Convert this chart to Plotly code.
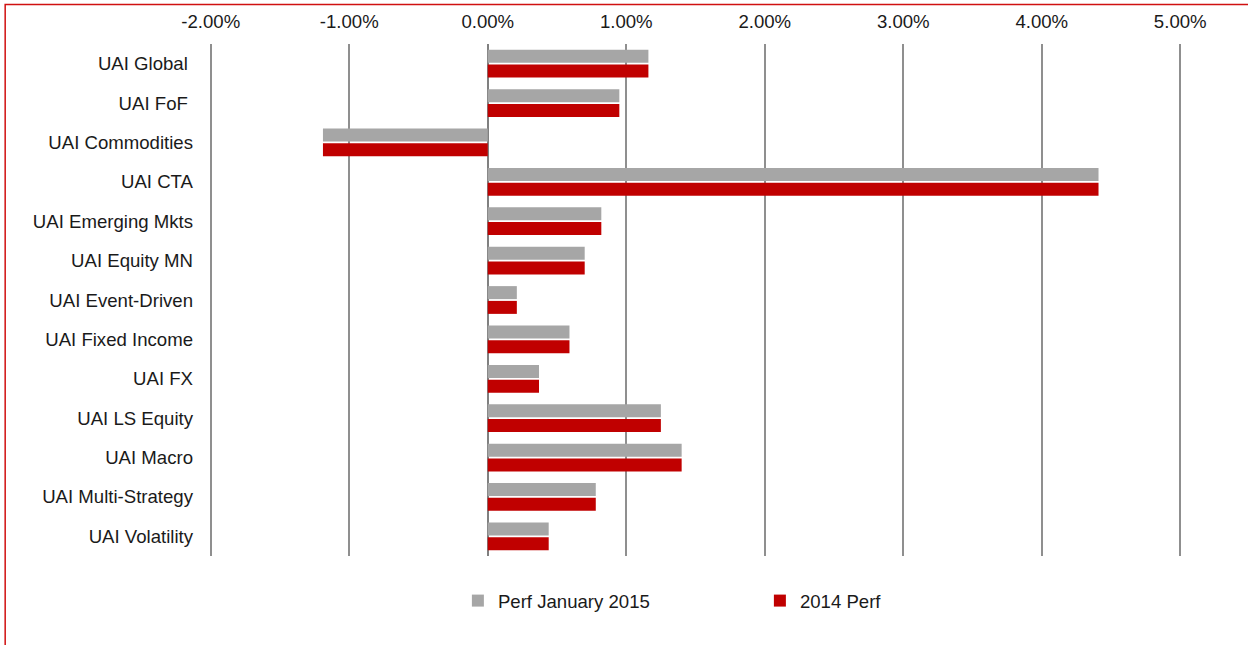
import plotly.graph_objects as go

categories = ["UAI Global\u00a0", "UAI FoF\u00a0", "UAI Commodities", "UAI CTA", "UAI Emerging Mkts",
              "UAI Equity MN", "UAI Event-Driven", "UAI Fixed Income", "UAI FX", "UAI LS Equity",
              "UAI Macro", "UAI Multi-Strategy", "UAI Volatility"]
perf_jan_2015 = [1.16, 0.95, -1.19, 4.41, 0.82, 0.70, 0.21, 0.59, 0.37, 1.25, 1.40, 0.78, 0.44]
perf_2014 = [1.16, 0.95, -1.19, 4.41, 0.82, 0.70, 0.21, 0.59, 0.37, 1.25, 1.40, 0.78, 0.44]
tick_vals = [-2, -1, 0, 1, 2, 3, 4, 5]
tick_text = ["-2.00%", "-1.00%", "0.00%", "1.00%", "2.00%", "3.00%", "4.00%", "5.00%"]

W, H = 1248, 645
PX = 969 / 7.0          # pixels per 1%
EXT = 0.02
L = 211 - EXT * PX
PW = (7 + 2 * EXT) * PX
R = W - L - PW
T, B = 44, 89
PH = H - T - B

fig = go.Figure()
fig.add_trace(go.Bar(y=categories, x=perf_jan_2015, orientation="h", name="Perf January 2015",
                     marker=dict(color="#a6a6a6", line=dict(width=0))))
fig.add_trace(go.Bar(y=categories, x=perf_2014, orientation="h", name="2014 Perf",
                     marker=dict(color="#c00000", line=dict(width=0))))

fig.update_layout(
    width=W, height=H,
    margin=dict(l=L, r=R, t=T, b=B, pad=0),
    paper_bgcolor="white", plot_bgcolor="white",
    barmode="group", bargap=0.25, bargroupgap=0.12,
    font=dict(family="Liberation Sans, Arial, sans-serif", size=18.6, color="#1a1a1a"),
    xaxis=dict(side="top", range=[-2 - EXT, 5 + EXT], tickvals=tick_vals, ticktext=tick_text,
               showgrid=True, gridcolor="#8f8f8f", gridwidth=1.5,
               zeroline=True, zerolinecolor="#808080", zerolinewidth=2,
               showline=False, ticks="", ticklabelstandoff=11, fixedrange=True),
    yaxis=dict(autorange="reversed", showgrid=False, showline=False, ticks="",
               ticklabelstandoff=14, fixedrange=True),
    legend=dict(orientation="h", x=(458 - L) / PW, xanchor="left", y=-(601 - (T + PH)) / PH,
                yanchor="middle", entrywidth=257, font=dict(size=18.6), traceorder="normal"),
    shapes=[dict(type="rect", xref="paper", yref="paper",
                 x0=(5.5 - L) / PW, x1=(1260 - L) / PW,
                 y0=((T + PH) - 660) / PH, y1=((T + PH) - 4.5) / PH,
                 line=dict(color="#d01010", width=1.5), fillcolor="rgba(0,0,0,0)", layer="below")],
)

fig.write_html("out.html", config={"displayModeBar": False},
               post_script="document.body.style.margin='0';")
